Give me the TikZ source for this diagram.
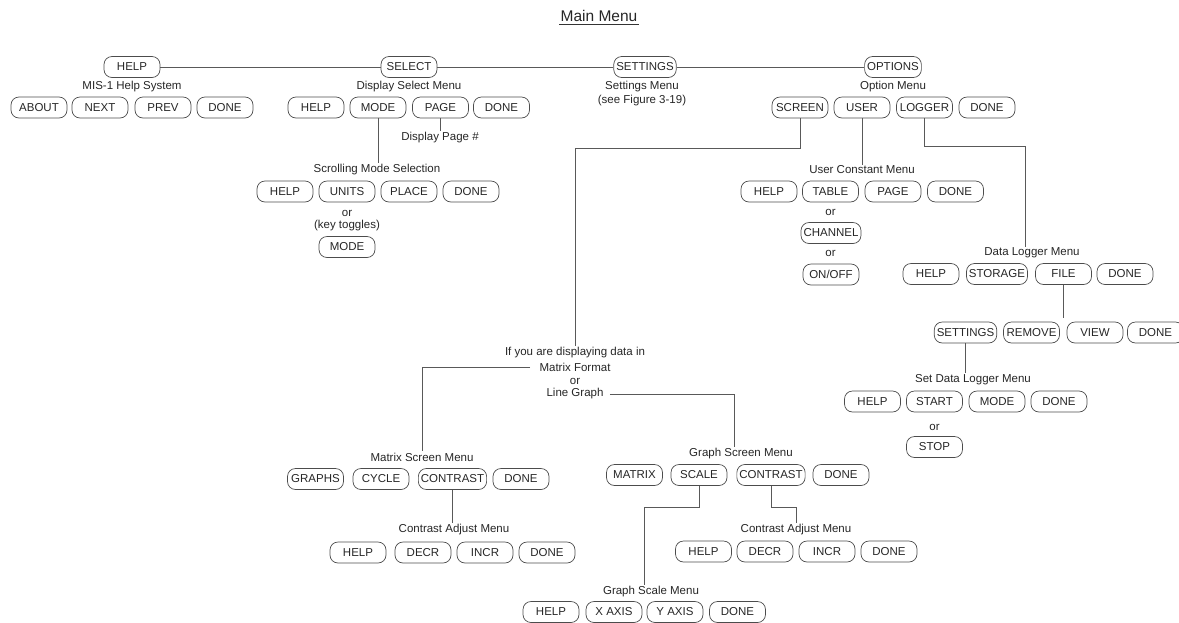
\documentclass[tikz,border=0pt]{standalone}
\usepackage{fontspec}
\setmainfont{Liberation Sans}
\begin{document}
\begin{tikzpicture}
          [x=1pt,y=-1pt,color=black!65,line width=.7pt,
           every node/.style={font=\fontsize{11.5}{14}\selectfont,text=black!85,inner sep=1pt},
           key/.style={draw=black!70,rounded corners=8pt,minimum width=56pt,minimum height=21pt,inner xsep=2.5pt},
           lbl/.style={align=center}]
          \useasboundingbox (0,0) rectangle (1179,622);

          \node[font=\fontsize{15.5}{18}\selectfont] (title) at (599,16) {Main Menu};
          \draw[line width=1.1pt,black!80] ([yshift=-1.5pt]title.south west) -- ([yshift=-1.5pt]title.south east);

          % main menu
          \node[key] (help) at (132,67) {HELP};
          \node[key] (select) at (409,67) {SELECT};
          \node[key] (settings) at (645,67) {SETTINGS};
          \node[key] (options) at (893,67) {OPTIONS};

          % help system
          \node (hlpttl) at (132,87) {MIS-1 Help System};
          \node[key] (habout) at (39,107.5) {ABOUT};
          \node[key] (hnext) at (100,107.5) {NEXT};
          \node[key] (hprev) at (163,107.5) {PREV};
          \node[key] (hdone) at (225,107.5) {DONE};

          % display select
          \node (selttl) at (409,87) {Display Select Menu};
          \node[key] (shelp) at (316,107.5) {HELP};
          \node[key] (smode) at (378,107.5) {MODE};
          \node[key] (spage) at (440.5,107.5) {PAGE};
          \node[key] (sdone) at (501.5,107.5) {DONE};
          \node (pagettl) at (440,138) {Display Page \#};

          \node (scrttl) at (377,170) {Scrolling Mode Selection};
          \node[key] (chelp) at (285,191.5) {HELP};
          \node[key] (cunits) at (347,191.5) {UNITS};
          \node[key] (cplace) at (409,191.5) {PLACE};
          \node[key] (cdone) at (471,191.5) {DONE};
          \node (cor) at (347,213) {or};
          \node (ctoggle) at (347,226) {(key toggles)};
          \node[key] (cmode) at (347,247) {MODE};

          % settings
          \node[lbl] (setttl) at (642,94) {Settings Menu\\(see Figure 3-19)};

          % options
          \node (optttl) at (893,87) {Option Menu};
          \node[key] (oscreen) at (800,107.5) {SCREEN};
          \node[key] (ouser) at (862,107.5) {USER};
          \node[key] (ologger) at (924.5,107.5) {LOGGER};
          \node[key] (odone) at (987,107.5) {DONE};

          % user constants
          \node (usrttl) at (862,170) {User Constant Menu};
          \node[key] (uhelp) at (769,191.5) {HELP};
          \node[key] (utable) at (830.5,191.5) {TABLE};
          \node[key] (upage) at (893,191.5) {PAGE};
          \node[key] (udone) at (955.5,191.5) {DONE};
          \node (uor1) at (830.5,212) {or};
          \node[key] (uchannel) at (831,233) {CHANNEL};
          \node (uor2) at (830.5,253) {or};
          \node[key] (uonoff) at (831,274.5) {ON/OFF};

          % data logger
          \node (dlttl) at (1032,253) {Data Logger Menu};
          \node[key] (dhelp) at (931,274) {HELP};
          \node[key] (dstorage) at (997,274) {STORAGE};
          \node[key] (dfile) at (1063.5,274) {FILE};
          \node[key] (ddone) at (1125,274) {DONE};
          \coordinate (fileend) at (1063.5,318);
          \node[key] (fsettings) at (965.5,332.5) {SETTINGS};
          \node[key] (fremove) at (1031.5,332.5) {REMOVE};
          \node[key] (fview) at (1095,332.5) {VIEW};
          \node[key] (fdone) at (1155.5,332.5) {DONE};

          \node (sdlttl) at (973,380) {Set Data Logger Menu};
          \node[key] (lhelp) at (872.5,401.5) {HELP};
          \node[key] (lstart) at (934.5,401.5) {START};
          \node[key] (lmode) at (997,401.5) {MODE};
          \node[key] (ldone) at (1059,401.5) {DONE};
          \node (lor) at (934.5,427) {or};
          \node[key] (lstop) at (934.5,447) {STOP};

          % screen
          \node (ifdata) at (575,353) {If you are displaying data in};
          \node (fmtmatrix) at (575,367) {Matrix Format};
          \node (fmtor) at (575,381) {or};
          \node (fmtline) at (575,394) {Line Graph};

          \node (mttl) at (422,457) {Matrix Screen Menu};
          \node[key] (mgraphs) at (315.5,479) {GRAPHS};
          \node[key] (mcycle) at (381,479) {CYCLE};
          \node[key] (mcontrast) at (452.5,479) {CONTRAST};
          \node[key] (mdone) at (521,479) {DONE};

          \node (mcattl) at (454,530) {Contrast Adjust Menu};
          \node[key] (mahelp) at (358,552.5) {HELP};
          \node[key] (madecr) at (423,552.5) {DECR};
          \node[key] (maincr) at (485,552.5) {INCR};
          \node[key] (madone) at (547,552.5) {DONE};

          \node (gttl) at (741,454) {Graph Screen Menu};
          \node[key] (gmatrix) at (634.5,475) {MATRIX};
          \node[key] (gscale) at (699,475) {SCALE};
          \node[key] (gcontrast) at (771,475) {CONTRAST};
          \node[key] (gdone) at (841,475) {DONE};

          \node (gcattl) at (796,530) {Contrast Adjust Menu};
          \node[key] (gahelp) at (703.5,551.5) {HELP};
          \node[key] (gadecr) at (765,551.5) {DECR};
          \node[key] (gaincr) at (827,551.5) {INCR};
          \node[key] (gadone) at (889,551.5) {DONE};

          \node (gsttl) at (651,592) {Graph Scale Menu};
          \node[key] (gshelp) at (551,612) {HELP};
          \node[key] (gsxaxis) at (614,612) {X AXIS};
          \node[key] (gsyaxis) at (675,612) {Y AXIS};
          \node[key] (gsdone) at (737.5,612) {DONE};

          \foreach \from/\to in {help/select,select/settings,settings/options}
            \draw (\from.east) -- (\to.west);

          \foreach \from/\to in {smode/scrttl,spage/pagettl,ouser/usrttl,dfile/fileend,mcontrast/mcattl}
            \draw (\from.south) -- (\from.south |- \to.north);
          \draw (fsettings.south) -- (fsettings.south |- sdlttl.north);

          \draw (oscreen.south) -- ++(0,30) -| (ifdata.north);
          \draw (ologger.south) -- ++(0,28) -| ([xshift=-7pt]dlttl.north);
          \draw[shorten <=8pt] (fmtmatrix.west) -| (mttl.north);
          \draw[shorten <=5pt] (fmtline.east) -| ([xshift=-7pt]gttl.north);
          \draw (gscale.south) -- ++(0,21) -| ([xshift=-7pt]gsttl.north);
          \draw (gcontrast.south) -- ++(0,21) -| (gcattl.north);

        \end{tikzpicture}
\end{document}
